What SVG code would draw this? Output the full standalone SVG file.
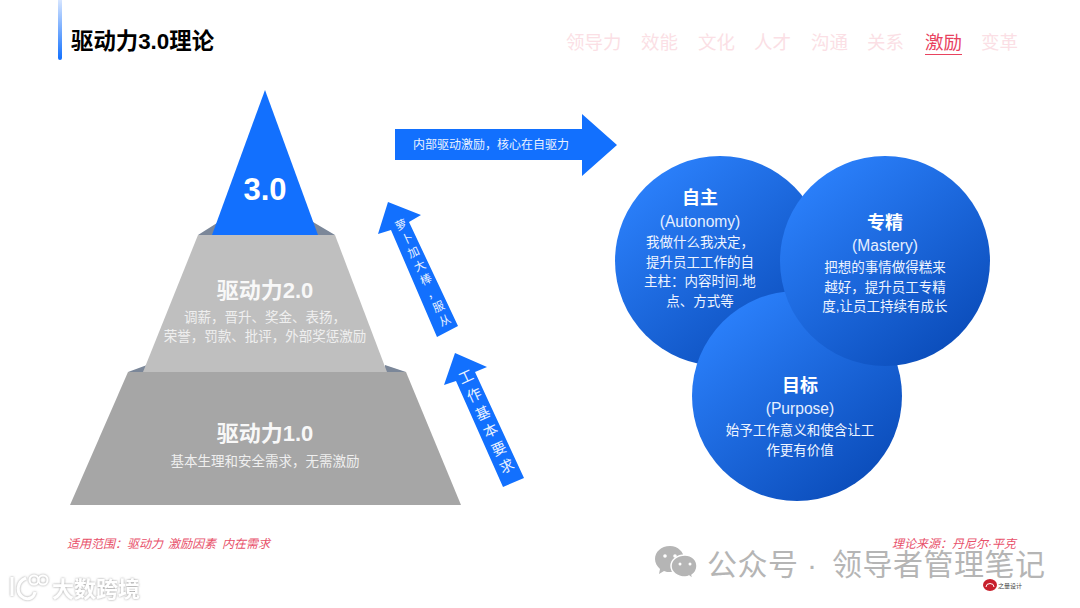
<svg xmlns="http://www.w3.org/2000/svg" width="1080" height="608" viewBox="0 0 1080 608">
<style>
text{font-family:"Liberation Sans","Noto Sans CJK SC",sans-serif}
.m{text-anchor:middle}
.nav{font-size:18.5px;fill:#fbdfe5}
.py{font-weight:bold;font-size:22px;fill:#f8f8f8;text-anchor:middle}
.pys{font-size:13.5px;fill:#efefef;text-anchor:middle}
.ct{font-weight:bold;font-size:18px;fill:#fff;text-anchor:middle}
.ce{font-size:15.6px;fill:#e6efff;text-anchor:middle}
.cb{font-size:13.5px;fill:#eef4ff;text-anchor:middle}
.ar{fill:#1270fe}
.at{fill:#eaf2ff;text-anchor:middle}
.foot{font-size:12px;font-style:italic;fill:#e8506a}
.wm{font-size:30px;fill:#b5b5b5;letter-spacing:0.5px}
.wedge{fill:#7b8799}
</style>
<defs>
<linearGradient id="bar" x1="0" y1="0" x2="0" y2="1"><stop offset="0" stop-color="#d6e5ff"/><stop offset="1" stop-color="#1270fe"/></linearGradient>
<linearGradient id="cg" x1="0.15" y1="0.1" x2="0.85" y2="0.95"><stop offset="0" stop-color="#2b80fb"/><stop offset="1" stop-color="#0a4bb8"/></linearGradient>
<filter id="sh" x="-20%" y="-20%" width="140%" height="140%"><feDropShadow dx="0" dy="0" stdDeviation="1.3" flood-color="#8a8a8a" flood-opacity="0.9"/></filter>
</defs>
<rect width="1080" height="608" fill="#fff"/>
<g id="header">
<path d="M58 0h4v58a2 2 0 0 1-4 0z" fill="url(#bar)"/>
<text x="71" y="48.5" font-size="22.4" font-weight="bold" fill="#000">驱动力3.0理论</text>
<text class="nav" x="566" y="49">领导力</text>
<text class="nav" x="641" y="49">效能</text>
<text class="nav" x="698" y="49">文化</text>
<text class="nav" x="754" y="49">人才</text>
<text class="nav" x="811" y="49">沟通</text>
<text class="nav" x="867" y="49">关系</text>
<text class="nav" x="925" y="49" style="fill:#e8435f">激励</text>
<rect x="925" y="54" width="37" height="1" fill="#e8435f"/>
<text class="nav" x="981" y="49">变革</text>
</g>
<g id="pyramid-level-1">
<path class="wedge" d="M128 372L147 365L147 372zM406 372L385 365L385 372z"/>
<path d="M128 372H406L461 505H70z" fill="#a6a6a6"/>
<text class="py" x="265" y="441">驱动力1.0</text>
<text class="pys" x="265" y="466">基本生理和安全需求，无需激励</text>
</g>
<g id="pyramid-level-2">
<path class="wedge" d="M198 235L217 223L217 235zM335 235L313 222L313 235z"/>
<path d="M198 235H335L387 372H143z" fill="#bfbfbf"/>
<text class="py" x="265" y="298">驱动力2.0</text>
<text class="pys" x="265" y="322">调薪，晋升、奖金、表扬，</text>
<text class="pys" x="265" y="341">荣誉，罚款、批评，外部奖惩激励</text>
</g>
<g id="pyramid-level-3">
<path d="M265 90L318 235H212z" fill="#1270fe"/>
<text class="m" x="265" y="200" font-size="31" font-weight="bold" fill="#fff">3.0</text>
</g>
<g id="connectors">
<path class="ar" d="M395 129H582V114L617 145L582 176V160H395z"/>
<path class="ar" d="M388 202L421 215L409 222L458 326L437 337L391 230L378 234z"/>
<path class="ar" d="M455 353L487 367L475 372L524 478L503 487L456 381L444 385z"/>
<text class="at" x="491" y="149" font-size="12">内部驱动激励，核心在自驱力</text>
<g transform="translate(401 225) rotate(-24.6)"><text class="at" font-size="11.5" x="0 0 0 0 0 0 0 0" y="4 19 34 49 64 79 94 109">萝卜加大棒，服从</text></g>
<g transform="translate(466 377) rotate(-24.6)"><text class="at" font-size="14.5" x="0 0 0 0 0 0" y="5 25 45 64 84 103">工作基本要求</text></g>
</g>
<g id="circle-autonomy">
<circle cx="720" cy="261" r="105" fill="url(#cg)"/>
<text class="ct" x="700" y="204">自主</text>
<text class="ce" x="700" y="227">(Autonomy)</text>
<text class="cb" x="700" y="247">我做什么我决定，</text>
<text class="cb" x="700" y="267">提升员工工作的自</text>
<text class="cb" x="700" y="286">主柱：内容时间.地</text>
<text class="cb" x="700" y="306">点、方式等</text>
</g>
<g id="circle-purpose">
<circle cx="797" cy="396" r="105" fill="url(#cg)"/>
<text class="ct" x="800" y="392">目标</text>
<text class="ce" x="800" y="414">(Purpose)</text>
<text class="cb" x="800" y="435">始予工作意义和使含让工</text>
<text class="cb" x="800" y="455">作更有价值</text>
</g>
<g id="circle-mastery">
<circle cx="885" cy="261" r="105" fill="url(#cg)"/>
<text class="ct" x="885" y="229">专精</text>
<text class="ce" x="885" y="251">(Mastery)</text>
<text class="cb" x="885" y="272">把想的事情做得糕来</text>
<text class="cb" x="885" y="292">越好，提升员工专精</text>
<text class="cb" x="885" y="311">度,让员工持续有成长</text>
</g>
<g id="footer">
<text class="foot" x="67" y="548">适用范围：驱动力<tspan x="168">激励因素</tspan><tspan x="222">内在需求</tspan></text>
<text class="foot" x="892" y="548">理论来源：丹尼尔·平克</text>
</g>
<g id="watermark-wechat">
<path d="M670 546c-9 0-15 6-15 13c0 4 2 7 5 10l-1 5l5-3c2 1 4 1 6 1c8 0 14-6 14-13s-6-13-14-13z" fill="#b5b5b5"/>
<path d="M685 555c-8 0-14 5-14 11s6 11 14 11c2 0 3 0 4-1l4 3l-1-4c3-2 5-5 5-9c0-6-5-11-12-11z" fill="#b5b5b5" stroke="#fff" stroke-width="1.5"/>
<circle cx="665" cy="556" r="1.8" fill="#fff"/><circle cx="675" cy="556" r="1.8" fill="#fff"/>
<circle cx="680" cy="564" r="1.5" fill="#fff"/><circle cx="690" cy="564" r="1.5" fill="#fff"/>
<text class="wm" x="707" y="575">公众号</text>
<text class="wm" x="807" y="575">·</text>
<text class="wm" x="832" y="575">领导者管理笔记</text>
</g>
<g id="watermark-logo" filter="url(#sh)">
<g fill="none" stroke="#fff" stroke-width="3">
<path d="M12 577V596"/><path d="M26 578C16 582 16 594 24 598C30 600 34 597 35 592"/>
<circle cx="34" cy="580" r="4.5" stroke-width="2"/><circle cx="43" cy="580" r="4.5" stroke-width="2"/>
</g>
<text x="52" y="597" font-size="22" font-weight="bold" fill="#fff">大数跨境</text>
</g>
<g id="small-logo">
<path d="M983 585a7 6 0 0 1 14 0a7 6 0 0 1-14 0z" fill="#c8202c"/>
<path d="M986 587a4 3.5 0 0 1 8 0" fill="none" stroke="#fff" stroke-width="1"/>
<text x="998" y="588" font-size="6" fill="#444">之量设计</text>
</g>
</svg>
